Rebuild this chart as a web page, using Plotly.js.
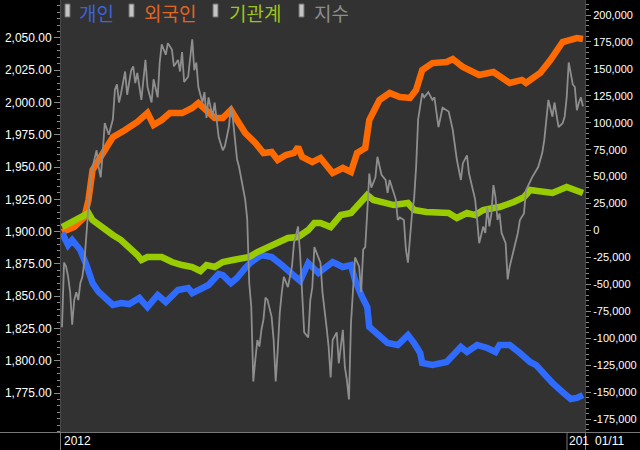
<!DOCTYPE html>
<html>
<head>
<meta charset="utf-8">
<script src="https://cdn.plot.ly/plotly-3.0.1.min.js"></script>
<style>
  html, body { margin: 0; padding: 0; background: #000; }
  #chart { width: 640px; height: 450px; }
</style>
</head>
<body>
<div id="chart"></div>
<script>
// Net buying by investor type (KRW, right axis) and the KOSPI index (left axis),
// plotted against the trading-session number since the start of 2012.

// 개인 (individuals)
const individualDays = [0,3,5,9,12,15,18,21,25,29,33,38,42,47,51,57,62,64,69,72,
  77,79,83,86,90,93,98,103,108,113,117,121,126,133,138,142,144,147,150,151,
  156,160,165,170,173,176,177,182,189,193,196,199,204,209,213,215,220,225,230,233,
  238,241,246,250,253,256];
const individualNet = [-2400,-13500,-8900,-18200,-32100,-48800,-57100,-61800,-69200,-67400,
  -68300,-62700,-71100,-59900,-66400,-55300,-53400,-58100,-52500,-50600,
  -40400,-41400,-48800,-44100,-34900,-29300,-22800,-24600,-32100,-39500,
  -46900,-30200,-39500,-29300,-33900,-32100,-46000,-59900,-71100,-89600,
  -98900,-104500,-106300,-97100,-104500,-113800,-123000,-124900,-122100,-113800,
  -108200,-112800,-106300,-109100,-112800,-106300,-106300,-113800,-122100,-124900,
  -136000,-141600,-150000,-156500,-155500,-152800];

// 외국인 (foreigners)
const foreignDays = [0,6,11,13,15,17,21,25,31,37,42,45,49,53,59,64,67,70,75,79,
  83,86,90,95,99,103,106,110,114,116,118,123,127,133,138,142,145,149,151,156,
  161,166,171,174,177,182,189,192,197,205,212,220,226,228,235,240,246,253,256];
const foreignNet = [-1400,3200,12500,28300,56100,62600,74700,86700,93200,100700,
  109000,97900,102500,109000,109000,113700,118300,113700,104400,104400,
  111800,102500,90500,81200,71900,72800,65400,70000,71900,77500,
  68200,63500,67300,53300,58000,54300,71900,76500,102500,121100,
  127600,123900,123000,130400,148900,155400,156400,159200,151700,144300,
  147100,136900,139700,136900,146200,158200,174900,178600,177700];

// 기관계 (institutions)
const institutionDays = [0,5,9,13,15,20,25,29,33,37,39,42,49,54,59,64,68,71,75,79,
  84,88,92,96,101,106,111,116,121,124,127,132,137,142,146,150,153,158,163,170,
  173,179,186,190,194,199,203,207,212,215,222,227,230,235,241,248,253,256];
const institutionNet = [3200,7800,11600,16200,9700,2300,-4200,-8900,-15400,-22800,
  -27400,-24600,-24600,-29300,-32100,-33900,-37600,-32100,-33900,-29300,
  -27400,-25600,-24600,-20000,-15400,-11700,-7000,-6100,400,6900,
  6900,3200,14300,16200,23600,32900,28300,26400,23600,25500,
  19000,17100,17100,16200,11600,16200,14300,19000,20800,21800,
  26400,31000,37500,35700,34800,40300,37500,34800];

// 지수 (KOSPI close)
const indexDays = [0,1,2,3,4,5,6,7,8,9,10,11,12,13,14,15,16,17,18,19,
  20,21,23,25,26,27,28,29,31,32,34,35,36,37,39,40,41,42,44,45,
  47,48,49,51,52,54,55,57,58,59,60,62,63,64,65,66,67,69,70,71,
  72,74,75,77,79,80,82,83,84,86,87,89,90,91,92,93,94,95,96,97,
  98,99,100,101,103,104,105,106,107,108,109,111,112,113,114,116,117,118,119,121,
  122,123,124,127,128,130,131,132,133,135,136,138,139,140,141,142,143,144,146,147,
  148,149,150,151,152,154,155,157,159,160,161,164,165,166,168,169,170,171,172,173,
  174,175,177,178,180,182,183,185,187,190,192,194,196,197,199,200,203,204,205,207,
  208,209,210,211,212,213,214,215,216,218,219,220,222,224,225,227,228,231,234,236,
  237,238,239,241,242,244,246,247,248,249,250,251,252,253,254,255,256];
const indexClose = [1826,1876,1873,1865,1853,1828,1847,1853,1847,1860,1865,1877,1898,1921,1940,1950,1956,1963,1950,1942,
  1961,1984,1975,1987,2010,2014,2000,2007,2024,2006,2025,2028,2015,2023,2002,2020,2033,2012,2000,2018,
  2004,2031,2045,2037,2046,2041,2028,2033,2024,2039,2016,2020,2035,2049,2025,2031,2012,2000,2008,1988,
  2004,1989,2000,1973,1963,1966,1981,1997,1987,1956,1950,1935,1925,1910,1860,1842,1784,1801,1816,1811,
  1824,1832,1849,1847,1834,1816,1784,1808,1837,1853,1865,1857,1865,1873,1891,1904,1883,1847,1822,1818,
  1847,1857,1888,1876,1853,1826,1811,1787,1816,1822,1798,1824,1795,1785,1770,1829,1857,1880,1873,1853,
  1886,1888,1915,1945,1934,1942,1958,1944,1940,1930,1940,1925,1909,1911,1909,1886,1876,1899,1914,1925,
  1950,1987,2007,2004,2008,2002,2004,1981,1996,1993,1979,1956,1940,1953,1959,1945,1925,1909,1891,1904,
  1899,1919,1904,1914,1936,1927,1909,1914,1899,1891,1863,1873,1886,1899,1909,1914,1932,1942,1950,1961,
  1971,1987,2002,1989,2000,1981,1984,1989,2004,2031,2021,2014,2012,1994,2000,2004,1997];

// Axis tick labels
const indexTicks = [1775,1800,1825,1850,1875,1900,1925,1950,1975,2000,2025,2050];
const flowTicks = [-175000,-150000,-125000,-100000,-75000,-50000,-25000,0,
  25000,50000,75000,100000,125000,150000,175000,200000];
const seriesNames = ['개인', '외국인', '기관계', '지수'];
const dateLabels = ['2012', '201', '01/11'];

// Page geometry
const W = 640, H = 450;
const M = { l: 61, r: 55, t: 0, b: 18 };
const PW = W - M.l - M.r, PH = H - M.t - M.b;
const fx = p => (p - M.l) / PW;          // pixel x -> paper x
const fy = p => 1 - (p - M.t) / PH;      // pixel y -> paper y

const tickFont = { family: 'Liberation Sans, Arial, sans-serif', size: 12, color: '#ffffff' };
const rightTickFont = { family: 'Liberation Sans, Arial, sans-serif', size: 11, color: '#ffffff' };
const tickGray = '#8a8a8a';

const flowLine = (x, y, color) => ({
  x, y, type: 'scatter', mode: 'lines', yaxis: 'y', hoverinfo: 'skip',
  line: { color, width: 6.5, shape: 'linear' }
});

const traces = [
  flowLine(foreignDays, foreignNet, '#ff6a00'),
  flowLine(individualDays, individualNet, '#2f6bff'),
  flowLine(institutionDays, institutionNet, '#99cc00'),
  {
    x: indexDays, y: indexClose, type: 'scatter', mode: 'lines', yaxis: 'y2', hoverinfo: 'skip',
    line: { color: '#8e8e8e', width: 1.8 }
  }
];

// Legend: grey marker bar + coloured label for each series
const legendColors = ['#3d63db', '#e2651f', '#9cc51c', '#8e8e8e'];
const legendBarX = [65, 129, 213, 299];
const legendTextX = [77, 142, 227, 312];

const shapes = [];
const annotations = [];
seriesNames.forEach((name, i) => {
  shapes.push({
    type: 'rect', xref: 'paper', yref: 'paper',
    x0: fx(legendBarX[i]), x1: fx(legendBarX[i] + 5), y0: fy(17), y1: fy(4),
    fillcolor: '#c4c4c4', line: { color: '#6e6e6e', width: 1 }
  });
  annotations.push({
    text: name, xref: 'paper', yref: 'paper', x: fx(legendTextX[i]), y: fy(12),
    xanchor: 'left', yanchor: 'middle', showarrow: false,
    font: { family: 'Noto Sans CJK KR, sans-serif', size: 19, color: legendColors[i] }
  });
});

// Date strip below the plot
shapes.push({ type: 'line', xref: 'paper', yref: 'paper', x0: fx(0), x1: fx(W), y0: fy(432.5), y1: fy(432.5),
  line: { color: '#777777', width: 1 } });
[60.5, 567, 585.5].forEach(p => shapes.push({
  type: 'line', xref: 'paper', yref: 'paper', x0: fx(p), x1: fx(p), y0: fy(432.5), y1: fy(450),
  line: { color: '#777777', width: 1 }
}));
[62, 567, 593].forEach((p, i) => annotations.push({
  text: dateLabels[i], xref: 'paper', yref: 'paper', x: fx(p), y: fy(441),
  xanchor: 'left', yanchor: 'middle', showarrow: false, font: tickFont
}));

const layout = {
  width: W, height: H,
  margin: { l: M.l, r: M.r, t: M.t, b: M.b, pad: 0 },
  paper_bgcolor: '#000000',
  plot_bgcolor: '#323232',
  showlegend: false,
  xaxis: {
    range: [-0.5, 257], showticklabels: false, ticks: '', showgrid: false,
    zeroline: false, showline: false, fixedrange: true
  },
  yaxis: {
    side: 'right', range: [-187068, 213925],
    tickmode: 'array', tickvals: flowTicks,
    ticktext: flowTicks.map(v => v.toLocaleString('en-US')),
    ticks: 'outside', ticklen: 5, tickcolor: tickGray, tickfont: rightTickFont,
    minor: { dtick: 5000, tick0: 0, ticks: 'outside', ticklen: 3, tickcolor: tickGray, showgrid: false },
    showgrid: false, zeroline: false, showline: true, linecolor: '#4a4a4a', fixedrange: true
  },
  yaxis2: {
    overlaying: 'y', side: 'left', range: [1744.8, 2079.4],
    tickmode: 'array', tickvals: indexTicks,
    ticktext: indexTicks.map(v => v.toLocaleString('en-US', { minimumFractionDigits: 2, maximumFractionDigits: 2 })),
    ticks: 'outside', ticklen: 6, tickcolor: tickGray, tickfont: tickFont,
    minor: { dtick: 5, tick0: 0, ticks: 'outside', ticklen: 3, tickcolor: tickGray, showgrid: false },
    showgrid: false, zeroline: false, showline: true, linecolor: '#4a4a4a', fixedrange: true
  },
  shapes, annotations
};

Plotly.newPlot('chart', traces, layout, { staticPlot: true, displayModeBar: false });
</script>
</body>
</html>
